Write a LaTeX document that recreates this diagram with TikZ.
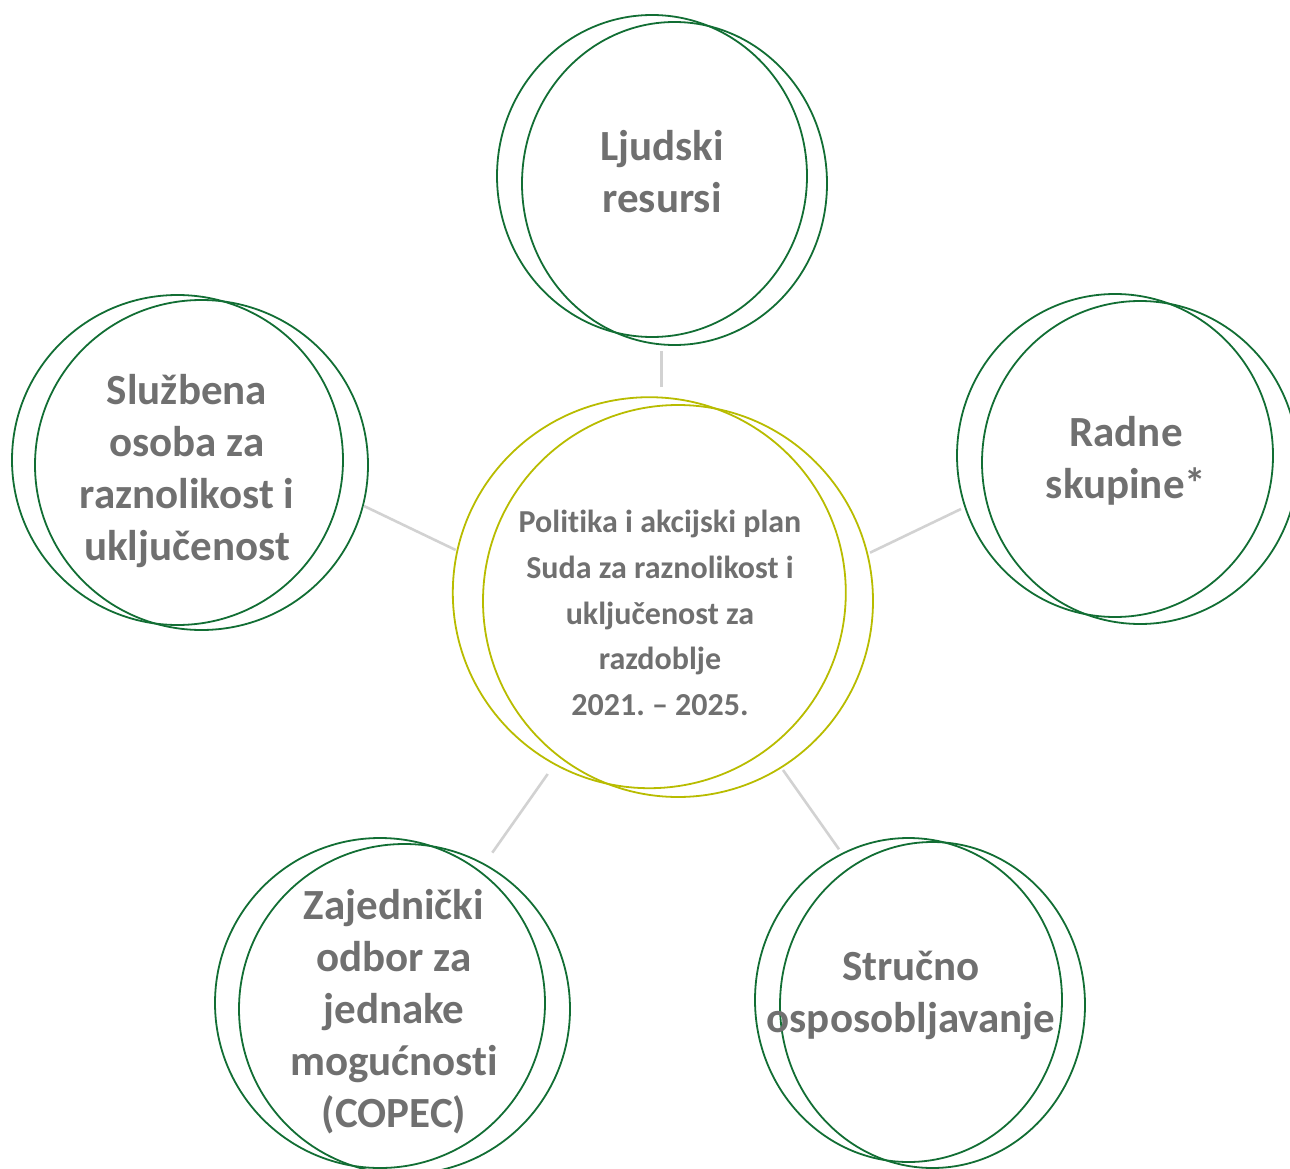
\documentclass[tikz,border=0pt]{standalone}
\usepackage{fontspec}
\setmainfont{Carlito}[Ligatures=NoCommon]
\frenchspacing
\usetikzlibrary{shapes.geometric}
\definecolor{dgreen}{RGB}{18,110,52}
\definecolor{olive}{RGB}{184,188,0}
\definecolor{conn}{RGB}{210,210,210}
\definecolor{txt}{RGB}{112,112,112}
\tikzset{
  ringg/.style={ellipse, draw=dgreen, line width=1.8pt, inner sep=0pt},
  ringo/.style={ellipse, draw=olive, line width=1.8pt, inner sep=0pt},
  outtext/.style={align=center, text=txt, font=\fontsize{43}{52}\selectfont\bfseries, inner sep=0pt},
  centext/.style={align=center, text=txt, font=\fontsize{32}{45.7}\selectfont\bfseries, inner sep=0pt},
  link/.style={draw=conn, line width=2.6pt}
}
\begin{document}
\begin{tikzpicture}[x=1pt,y=-1pt]
\useasboundingbox (0,0) rectangle (1290,1169);
% center
\node[ringo, minimum width=393pt, minimum height=391pt] (c1) at (649.3,592.7) {};
\node[ringo, minimum width=390pt, minimum height=392pt] (c2) at (678,601) {};
\node[centext] (ct) at (660,613) {Politika i akcijski plan\\Suda za raznolikost i\\uključenost za\\razdoblje\\2021. – 2025.};
% top
\node[ringg, minimum width=310pt, minimum height=322pt] (t1) at (652,176) {};
\node[ringg, minimum width=305pt, minimum height=323pt] (t2) at (674.5,183.5) {};
\node[outtext] (tt) at (662,172) {Ljudski\\resursi};
% left
\node[ringg, minimum width=331pt, minimum height=330pt] (l1) at (177.5,460) {};
\node[ringg, minimum width=333pt, minimum height=330pt] (l2) at (201.5,465) {};
\node[outtext] (lt) at (187,471) {Službena\\osoba za\\raznolikost i\\uključenost};
% right
\node[ringg, minimum width=316pt, minimum height=323pt] (r1) at (1115,455.5) {};
\node[ringg, minimum width=316pt, minimum height=323pt] (r2) at (1140,462.5) {};
\node[outtext] (rt) at (1126,461) {Radne\\skupine*};
% bottom left
\node[ringg, minimum width=330pt, minimum height=330pt] (b1) at (380,1003) {};
\node[ringg, minimum width=331pt, minimum height=330pt] (b2) at (404.5,1009) {};
\node[outtext] (bt) at (394,1012) {Zajednički\\odbor za\\jednake\\mogućnosti\\(COPEC)};
% bottom right
\node[ringg, minimum width=307pt, minimum height=324pt] (s1) at (908.5,1000) {};
\node[ringg, minimum width=305pt, minimum height=326pt] (s2) at (932.5,1005) {};
\node[outtext] (st) at (911,995) {Stručno\\osposobljavanje};
% connector ends
\coordinate (ct-top) at (661.7,387);
\coordinate (tt-end) at (661.7,351);
\coordinate (ct-left) at (455.7,550);
\coordinate (lt-end) at (364,506);
\coordinate (ct-right) at (870,552.7);
\coordinate (rt-end) at (961,509);
\coordinate (ct-bl) at (547.7,774);
\coordinate (bt-end) at (492.3,852.7);
\coordinate (ct-br) at (783,770);
\coordinate (st-end) at (839,849.3);
\draw[link] (ct-top) -- (tt-end);
\draw[link] (ct-left) -- (lt-end);
\draw[link] (ct-right) -- (rt-end);
\draw[link] (ct-bl) -- (bt-end);
\draw[link] (ct-br) -- (st-end);
\end{tikzpicture}
\end{document}
